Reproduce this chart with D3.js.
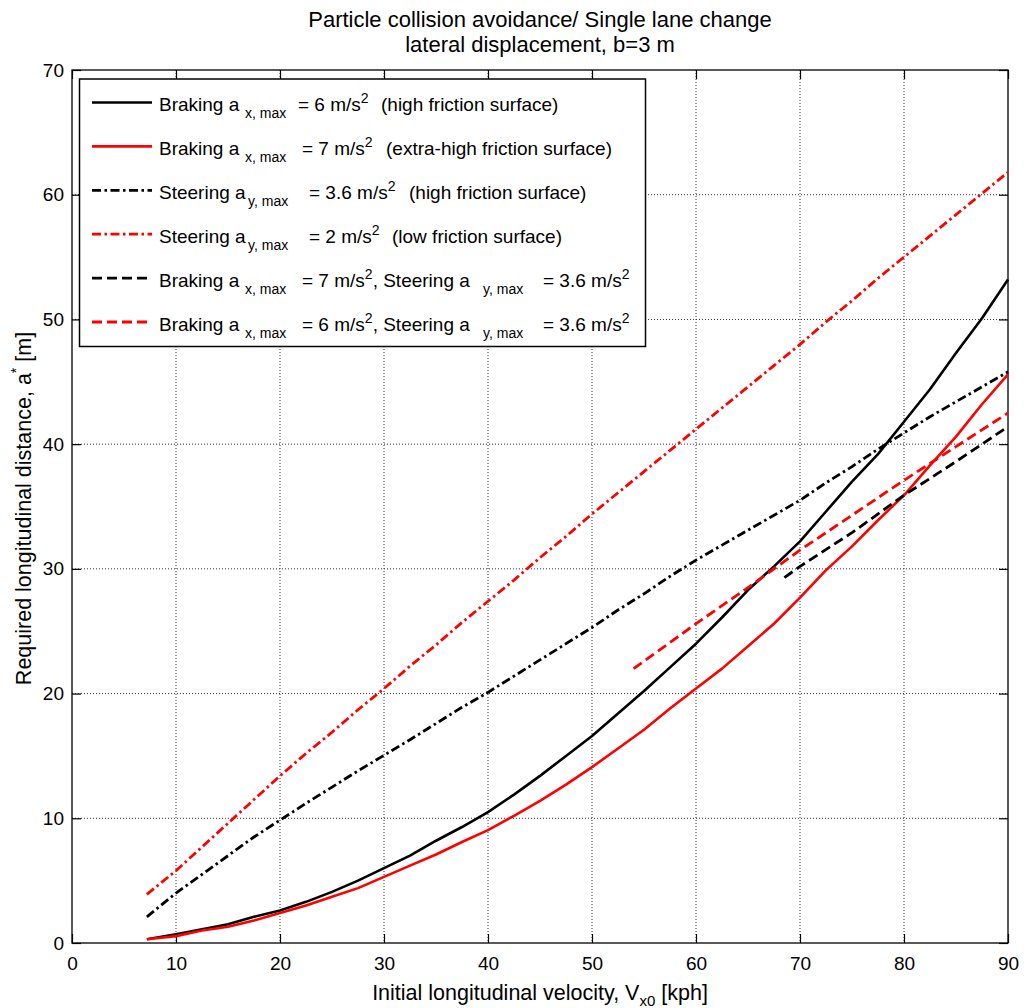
<!DOCTYPE html>
<html>
<head>
<meta charset="utf-8">
<script src="https://cdn.jsdelivr.net/npm/d3@7/dist/d3.min.js"></script>
<style>
  html, body { margin: 0; padding: 0; background: #fff; }
  svg text { font-family: "Liberation Sans", Arial, Helvetica, sans-serif; fill: #000; }
</style>
</head>
<body>
<svg id="chart" width="1024" height="1008"></svg>
<script>
// ---- Data: required longitudinal distance a* [m] vs initial velocity Vx0 [kph] ----
const xTicks = [0, 10, 20, 30, 40, 50, 60, 70, 80, 90];
const yTicks = [0, 10, 20, 30, 40, 50, 60, 70];

// velocity samples shared by the braking-only and steering-only curves
const velocity = [7.2, 10, 12.5, 15, 17.5, 20, 22.5, 25, 27.5, 30, 32.5, 35, 37.5, 40, 42.5, 45, 47.5, 50,
                  52.5, 55, 57.5, 60, 62.5, 65, 67.5, 70, 72.5, 75, 77.5, 80, 82.5, 85, 87.5, 90];

// braking, ax,max = 6 m/s^2
const brakeHigh = [0.3, 0.7, 1.1, 1.5, 2.1, 2.6, 3.3, 4.1, 5.0, 6.0, 7.0, 8.2, 9.3, 10.5, 11.9, 13.4, 15.0, 16.6,
                   18.4, 20.2, 22.1, 24.0, 26.1, 28.3, 30.2, 32.2, 34.6, 37.0, 39.2, 41.8, 44.4, 47.3, 50.1, 53.2];
// braking, ax,max = 7 m/s^2
const brakeExtra = [0.3, 0.55, 1.0, 1.3, 1.8, 2.4, 3.0, 3.7, 4.4, 5.3, 6.2, 7.1, 8.1, 9.05, 10.2, 11.4, 12.7, 14.1,
                    15.6, 17.1, 18.8, 20.4, 22.0, 23.8, 25.6, 27.7, 29.9, 31.8, 33.9, 35.9, 38.3, 40.6, 43.2, 45.6];
// steering, ay,max = 3.6 m/s^2
const steerHigh = [2.1, 4.0, 5.5, 7.0, 8.5, 9.85, 11.2, 12.5, 13.8, 15.05, 16.3, 17.6, 18.9, 20.1, 21.4, 22.7, 24.0, 25.3,
                   26.7, 28.0, 29.4, 30.7, 31.9, 33.1, 34.3, 35.5, 36.9, 38.2, 39.6, 40.9, 42.2, 43.4, 44.6, 45.8];
// steering, ay,max = 2 m/s^2
const steerLow = [3.9, 5.8, 7.7, 9.6, 11.5, 13.4, 15.2, 16.9, 18.7, 20.4, 22.2, 23.9, 25.7, 27.4, 29.1, 30.9, 32.6, 34.4,
                  36.1, 37.8, 39.5, 41.2, 42.9, 44.6, 46.3, 48.0, 49.8, 51.5, 53.3, 55.0, 56.7, 58.4, 60.1, 61.8];

// combined braking 7 m/s^2 + steering 3.6 m/s^2
const comboVelA = [68.5, 70, 75, 80, 85, 90];
const comboA    = [29.3, 30.2, 32.9, 35.9, 38.6, 41.4];
// combined braking 6 m/s^2 + steering 3.6 m/s^2
const comboVelB = [54, 60, 65, 70, 75, 80, 85, 90];
const comboB    = [22.0, 25.6, 28.5, 31.5, 34.3, 37.1, 39.8, 42.5];

// legend entries: [text, kind] with kind n = normal, sub = subscript, sup = superscript
const legendLabels = [
  [["Braking a", "n"], ["x, max", "sub"], ["= 6 m/s", "n"], ["2", "sup"], ["(high friction surface)", "n"]],
  [["Braking a", "n"], ["x, max", "sub"], ["= 7 m/s", "n"], ["2", "sup"], ["(extra-high friction surface)", "n"]],
  [["Steering a", "n"], ["y, max", "sub"], ["= 3.6 m/s", "n"], ["2", "sup"], ["(high friction surface)", "n"]],
  [["Steering a", "n"], ["y, max", "sub"], ["= 2 m/s", "n"], ["2", "sup"], ["(low friction surface)", "n"]],
  [["Braking a", "n"], ["x, max", "sub"], ["= 7 m/s", "n"], ["2", "sup"], [", Steering a", "n"], ["y, max", "sub"], ["= 3.6 m/s", "n"], ["2", "sup"]],
  [["Braking a", "n"], ["x, max", "sub"], ["= 6 m/s", "n"], ["2", "sup"], [", Steering a", "n"], ["y, max", "sub"], ["= 3.6 m/s", "n"], ["2", "sup"]]
];

const series = [
  { v: velocity,  d: brakeHigh,  color: "#000", dash: null,            width: 2.6 },
  { v: velocity,  d: brakeExtra, color: "#f00", dash: null,            width: 2.6 },
  { v: velocity,  d: steerHigh,  color: "#000", dash: "9,3.5,2.5,3.5", width: 2.8 },
  { v: velocity,  d: steerLow,   color: "#f00", dash: "9,3.5,2.5,3.5", width: 2.8 },
  { v: comboVelA, d: comboA,     color: "#000", dash: "10,5",          width: 2.8 },
  { v: comboVelB, d: comboB,     color: "#f00", dash: "10,5",          width: 2.8 }
];

// ---- Layout ----
const plotL = 72, plotR = 1008, plotT = 70, plotB = 943;
const svg = d3.select("#chart");

const x = d3.scaleLinear().domain([0, 90]).range([plotL, plotR]);
const y = d3.scaleLinear().domain([0, 70]).range([plotB, plotT]);

// grid (dotted)
const grid = svg.append("g");
grid.selectAll("line.gx").data(xTicks.slice(1, -1)).join("line")
  .attr("x1", d => x(d)).attr("x2", d => x(d)).attr("y1", plotT).attr("y2", plotB)
  .attr("stroke", "#333").attr("stroke-width", 1).attr("stroke-dasharray", "1,2");
grid.selectAll("line.gy").data(yTicks.slice(1, -1)).join("line")
  .attr("y1", d => y(d)).attr("y2", d => y(d)).attr("x1", plotL).attr("x2", plotR)
  .attr("stroke", "#333").attr("stroke-width", 1).attr("stroke-dasharray", "1,2");

// axes (ticks inward on all sides, boxed)
const tickLen = 9;
const axB = svg.append("g").attr("transform", `translate(0,${plotB})`)
  .call(d3.axisBottom(x).tickValues(xTicks).tickSize(-tickLen).tickPadding(14).tickFormat(d3.format("d")));
const axL = svg.append("g").attr("transform", `translate(${plotL},0)`)
  .call(d3.axisLeft(y).tickValues(yTicks).tickSize(-tickLen).tickPadding(8).tickFormat(d3.format("d")));
const axT = svg.append("g").attr("transform", `translate(0,${plotT})`)
  .call(d3.axisTop(x).tickValues(xTicks).tickSize(-tickLen).tickFormat(""));
const axR = svg.append("g").attr("transform", `translate(${plotR},0)`)
  .call(d3.axisRight(y).tickValues(yTicks).tickSize(-tickLen).tickFormat(""));
[axB, axL, axT, axR].forEach(g => {
  g.select(".domain").remove();
  g.selectAll(".tick line").attr("stroke", "#000").attr("stroke-width", 1.2);
  g.selectAll("text").attr("font-size", 19).attr("font-family", null).attr("fill", "#000");
});
svg.append("rect").attr("x", plotL).attr("y", plotT).attr("width", plotR - plotL).attr("height", plotB - plotT)
  .attr("fill", "none").attr("stroke", "#000").attr("stroke-width", 1.3);

// curves
const line = d3.line().x(p => x(p[0])).y(p => y(p[1]));
svg.append("g").selectAll("path").data(series).join("path")
  .attr("d", s => line(s.v.map((v, i) => [v, s.d[i]])))
  .attr("fill", "none")
  .attr("stroke", s => s.color)
  .attr("stroke-width", s => s.width)
  .attr("stroke-dasharray", s => s.dash)
  .attr("stroke-linejoin", "round");

// title
const cx = (plotL + plotR) / 2;
svg.append("text").attr("x", cx).attr("y", 27).attr("text-anchor", "middle")
  .attr("font-size", 22).text("Particle collision avoidance/ Single lane change");
svg.append("text").attr("x", cx).attr("y", 52).attr("text-anchor", "middle")
  .attr("font-size", 22).text("lateral displacement, b=3 m");

// x label
const xl = svg.append("text").attr("x", cx).attr("y", 1000).attr("text-anchor", "middle").attr("font-size", 21.5);
xl.append("tspan").text("Initial longitudinal velocity, V");
xl.append("tspan").attr("font-size", 15).attr("dy", 6).text("x0");
xl.append("tspan").attr("dy", -6).text(" [kph]");

// y label
const yl = svg.append("text").attr("transform", `translate(31,${(plotT + plotB) / 2 + 2}) rotate(-90)`)
  .attr("text-anchor", "middle").attr("font-size", 21.5);
yl.append("tspan").text("Required longitudinal distance, a");
yl.append("tspan").attr("font-size", 14).attr("dy", -10).text("*");
yl.append("tspan").attr("dy", 10).text(" [m]");

// legend
const lg = svg.append("g");
lg.append("rect").attr("x", 79.5).attr("y", 79).attr("width", 566).attr("height", 267.5)
  .attr("fill", "#fff").attr("stroke", "#000").attr("stroke-width", 1.5);
const rowY = i => 102.5 + i * 43.9;
// horizontal anchors of pieces that start at fixed positions (null = flows after previous piece)
const pieceX = [
  [159, 245, 298, null, 381],
  [159, 245, 302, null, 386],
  [159, 248, 309, null, 409],
  [159, 248, 309, null, 392],
  [159, 245, 302, null, null, 483, 543, null],
  [159, 245, 302, null, null, 483, 543, null]
];
const shift = { n: 0, sub: 7, sup: -8 };
series.forEach((s, i) => {
  lg.append("line").attr("x1", 92).attr("x2", 152).attr("y1", rowY(i)).attr("y2", rowY(i))
    .attr("stroke", s.color).attr("stroke-width", s.width).attr("stroke-dasharray", s.dash);
  const t = lg.append("text").attr("y", rowY(i) + 8.5).attr("font-size", 19);
  let cur = 0;
  legendLabels[i].forEach(([txt, kind], j) => {
    const ts = t.append("tspan").text(txt)
      .attr("dy", shift[kind] - cur)
      .attr("font-size", kind === "n" ? 19 : 14);
    if (pieceX[i][j] != null) ts.attr("x", pieceX[i][j]);
    cur = shift[kind];
  });
});
</script>
</body>
</html>
